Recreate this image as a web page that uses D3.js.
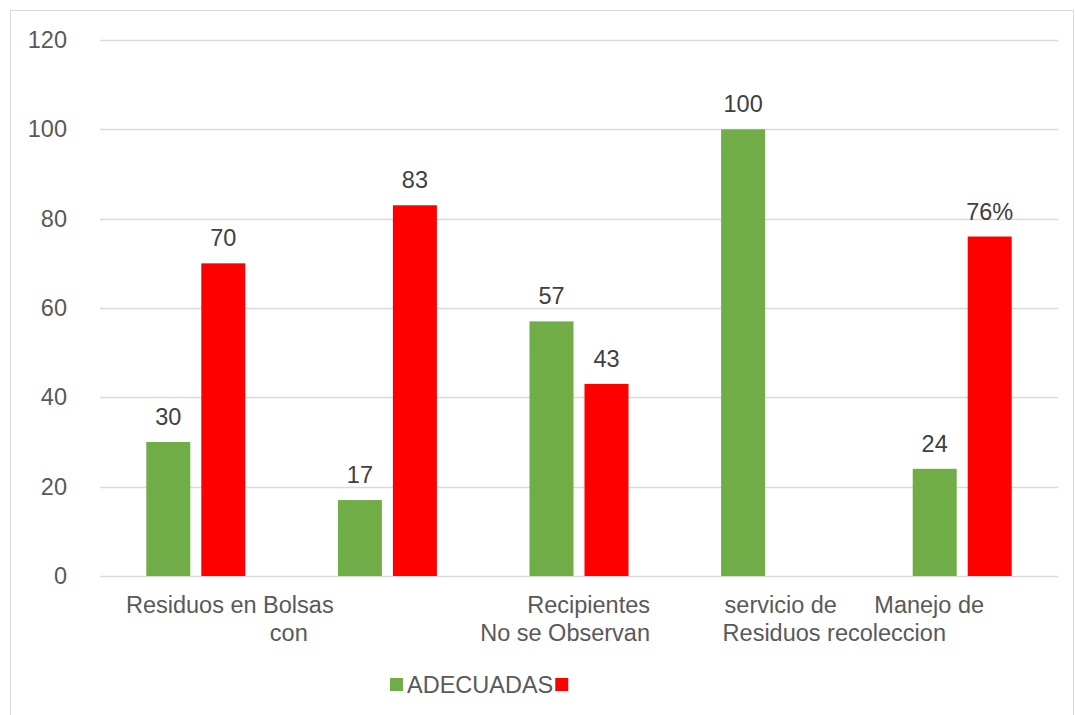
<!DOCTYPE html>
<html>
<head>
<meta charset="utf-8">
<script src="https://cdn.jsdelivr.net/npm/d3@7"></script>
<style>
  body { margin: 0; background: #fff; }
  text { font-family: "Liberation Sans", Arial, sans-serif; }
</style>
</head>
<body>
<div id="chart"></div>
<script>
// data
var categories = ["c1", "c2", "c3", "c4", "c5"];
var seriesNames = ["ADECUADAS", ""];
var adecuadas = [30, 17, 57, 100, 24];
var inadecuadas = [70, 83, 43, null, 76];
var valueLabels = [["30", "70"], ["17", "83"], ["57", "43"], ["100", ""], ["24", "76%"]];
var categoryLines = [
    ["Residuos en Bolsas", "con"],
    [],
    ["Recipientes", "No se Observan"],
    ["servicio de", "Residuos recoleccion"],
    ["Manejo de"]
];
var yTicks = [0, 20, 40, 60, 80, 100, 120];

// label layout (offset from band centre), the labels in the original overflow oddly
var labelLayout = [
    [{dx: 34, anchor: "middle"}, {dx: 93, anchor: "middle"}],
    [],
    [{dx: 71, anchor: "end"}, {dx: 71, anchor: "end"}],
    [{dx: -46, anchor: "start"}, {dx: -48, anchor: "start"}],
    [{dx: -33, anchor: "middle"}]
];

var colors = ["#70AD47", "#FF0000"];
var fs = 23.5;

var w = 1075, h = 715;
var plotLeft = 100, plotRight = 1058, plotTop = 40, plotBottom = 576;

var svg = d3.select("#chart").append("svg")
    .attr("width", w)
    .attr("height", h);

// outer frame
svg.append("rect")
    .attr("x", 10.5).attr("y", 10.5)
    .attr("width", w - 12).attr("height", h - 10)
    .attr("fill", "white")
    .attr("stroke", "#d9d9d9");

var x0 = d3.scaleBand().domain(categories).range([plotLeft, plotRight]);
var x1 = d3.scaleBand().domain([0, 1]).range([0, x0.bandwidth()])
    .paddingInner(0.2).paddingOuter(0.842);
var y = d3.scaleLinear().domain([0, 120]).range([plotBottom, plotTop]);

// gridlines
svg.append("g")
    .selectAll("line")
    .data(yTicks)
    .enter()
    .append("line")
    .attr("x1", plotLeft).attr("x2", plotRight)
    .attr("y1", function(d) { return Math.round(y(d)) + 0.5; })
    .attr("y2", function(d) { return Math.round(y(d)) + 0.5; })
    .attr("stroke", "#d9d9d9")
    .attr("stroke-width", 1.5);

// y axis labels
var yAxis = d3.axisLeft(y).tickValues(yTicks).tickSize(0).tickPadding(0);
var gy = svg.append("g")
    .attr("transform", "translate(67,0)")
    .call(yAxis);
gy.select(".domain").remove();
gy.selectAll("text")
    .attr("font-size", fs)
    .attr("fill", "#595959")
    .style("font-family", "Liberation Sans, Arial, sans-serif");

var rows = categories.map(function(c, i) {
    return [adecuadas[i], inadecuadas[i]];
});

var groups = svg.selectAll(".grp")
    .data(rows)
    .enter()
    .append("g")
    .attr("class", "grp")
    .attr("transform", function(d, i) { return "translate(" + x0(categories[i]) + ",0)"; });

groups.each(function(row, i) {
    var g = d3.select(this);
    row.forEach(function(v, s) {
        if (v == null) return;
        g.append("rect")
            .attr("x", x1(s))
            .attr("width", x1.bandwidth())
            .attr("y", y(v))
            .attr("height", y(0) - y(v))
            .attr("fill", colors[s]);
        g.append("text")
            .attr("x", x1(s) + x1.bandwidth() / 2)
            .attr("y", y(v) - 17)
            .attr("text-anchor", "middle")
            .attr("font-size", fs)
            .attr("fill", "#404040")
            .text(valueLabels[i][s]);
    });
});

// category labels
categories.forEach(function(c, i) {
    var cx = x0(c) + x0.bandwidth() / 2;
    categoryLines[i].forEach(function(line, k) {
        var lay = labelLayout[i][k];
        svg.append("text")
            .attr("x", cx + lay.dx)
            .attr("y", 613 + k * 28)
            .attr("text-anchor", lay.anchor)
            .attr("font-size", fs)
            .attr("fill", "#595959")
            .text(line);
    });
});

// legend
var legend = svg.append("g").attr("transform", "translate(390,678)");
legend.append("rect").attr("x", 0).attr("y", 0).attr("width", 13).attr("height", 13).attr("fill", colors[0]);
var lt = legend.append("text")
    .attr("x", 17).attr("y", 15)
    .attr("font-size", fs)
    .attr("fill", "#595959")
    .text(seriesNames[0]);
var tw = lt.node().getComputedTextLength();
legend.append("rect").attr("x", 17 + tw + 2).attr("y", 0).attr("width", 13).attr("height", 13).attr("fill", colors[1]);
</script>
</body>
</html>
